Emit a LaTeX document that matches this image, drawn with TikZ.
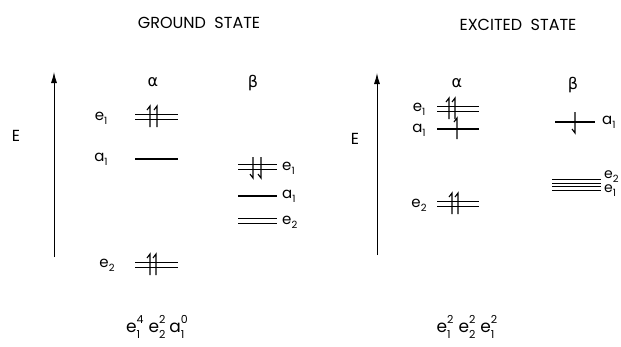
\documentclass[tikz,border=0pt]{standalone}
\usepackage{fontspec}
\setmainfont{Poppins}
\newfontfamily\grk{DejaVu Sans}
\usetikzlibrary{arrows.meta}
\newcommand\lb[2]{#1\raisebox{-0.5ex}{\fontsize{10}{10}\selectfont #2}}
\newcommand\supsub[3]{#1\makebox[0pt][l]{\raisebox{-0.6ex}{\fontsize{11}{11}\selectfont #2}}\raisebox{1.0ex}{\fontsize{11}{11}\selectfont #3}}
\newcommand\singlelvl[3]{\draw[lvl] (#1,#3)--(#2,#3);}
\newcommand\dbllvl[3]{\draw[lvl] (#1,#3-2.2)--(#2,#3-2.2) (#1,#3+2.2)--(#2,#3+2.2);}
\tikzset{
  lvl/.style={line width=1.1pt},
  ax/.style={line width=0.9pt,-{Latex[length=11pt,width=6pt]}},
  eup/.pic={\draw[lvl] (0,10)--(0,-11)--(-3,-7);},
  edn/.pic={\draw[lvl] (0,-10)--(0,11)--(-3,7);},
  every node/.style={inner sep=0pt,font=\fontsize{15}{15}\selectfont},
  hdr/.style={font=\fontsize{16}{16}\selectfont},
  bigE/.style={font=\fontsize{16}{16}\selectfont},
  gk/.style={font=\grk\fontsize{16}{16}\selectfont},
  frm/.style={font=\fontsize{17}{17}\selectfont}
}
\begin{document}
\begin{tikzpicture}[x=1pt,y=-1pt]
\useasboundingbox (0,0) rectangle (621,346);
% headers
\node[hdr] (hg) at (199,23) {GROUND\ \ STATE};
\node[hdr] (he) at (518,25) {EXCITED\ \ STATE};
% ground state
\coordinate (ga0) at (54,257);
\coordinate (ga1) at (54,72);
\draw[ax] (ga0) -- (ga1);
\node[bigE] (gE) at (16,136) {E};
\node[gk] (galpha) at (153,82) {α};
\node[gk] (gbeta) at (253,83) {β};
\dbllvl{135}{178}{117}
\pic at (150,117) {eup}; \pic at (157,117) {eup};
\singlelvl{135}{178}{159}
\dbllvl{135}{178}{265}
\pic at (150,265) {eup}; \pic at (156,265) {eup};
\node (gl1) at (101,118) {\lb{e}{1}};
\node (gl2) at (101,159) {\lb{a}{1}};
\node (gl3) at (107,265) {\lb{e}{2}};
\dbllvl{238}{277}{167}
\pic at (253,167) {edn}; \pic at (261,167) {edn};
\singlelvl{238}{277}{196}
\dbllvl{238}{277}{221}
\node[anchor=west] (gr1) at (282,168) {\lb{e}{1}};
\node[anchor=west] (gr2) at (282,196) {\lb{a}{1}};
\node[anchor=west] (gr3) at (282,222) {\lb{e}{2}};
\node[frm] (gf) at (157,327) {\supsub{e}{1}{4}\hspace{5pt}\supsub{e}{2}{2}\hspace{4pt}\supsub{a}{1}{0}};
% excited state
\coordinate (ea0) at (377,255);
\coordinate (ea1) at (377,73);
\draw[ax] (ea0) -- (ea1);
\node[bigE] (eE) at (355,139) {E};
\node[gk] (ealpha) at (457,83) {α};
\node[gk] (ebeta) at (573,85) {β};
\dbllvl{437}{479}{109}
\pic at (449,109) {eup}; \pic at (455,109) {eup};
\singlelvl{437}{479}{129}
\pic at (457,129) {eup};
\dbllvl{437}{479}{204}
\pic at (452,204) {eup}; \pic at (458,204) {eup};
\node (el1) at (419,109) {\lb{e}{1}};
\node (el2) at (419,130) {\lb{a}{1}};
\node (el3) at (419,205) {\lb{e}{2}};
\singlelvl{555}{595}{122}
\pic at (575,122) {edn};
\dbllvl{552}{601}{181.5}
\dbllvl{552}{601}{188.5}
\node[anchor=west] (er1) at (602,122) {\lb{a}{1}};
\node[anchor=west,font=\fontsize{14}{14}\selectfont] (er2) at (604,177) {\lb{e}{2}};
\node[anchor=west,font=\fontsize{14}{14}\selectfont] (er3) at (604,191) {\lb{e}{1}};
\node[frm] (ef) at (467,327) {\supsub{e}{1}{2}\hspace{5pt}\supsub{e}{2}{2}\hspace{5pt}\supsub{e}{1}{2}};
\end{tikzpicture}
\end{document}
